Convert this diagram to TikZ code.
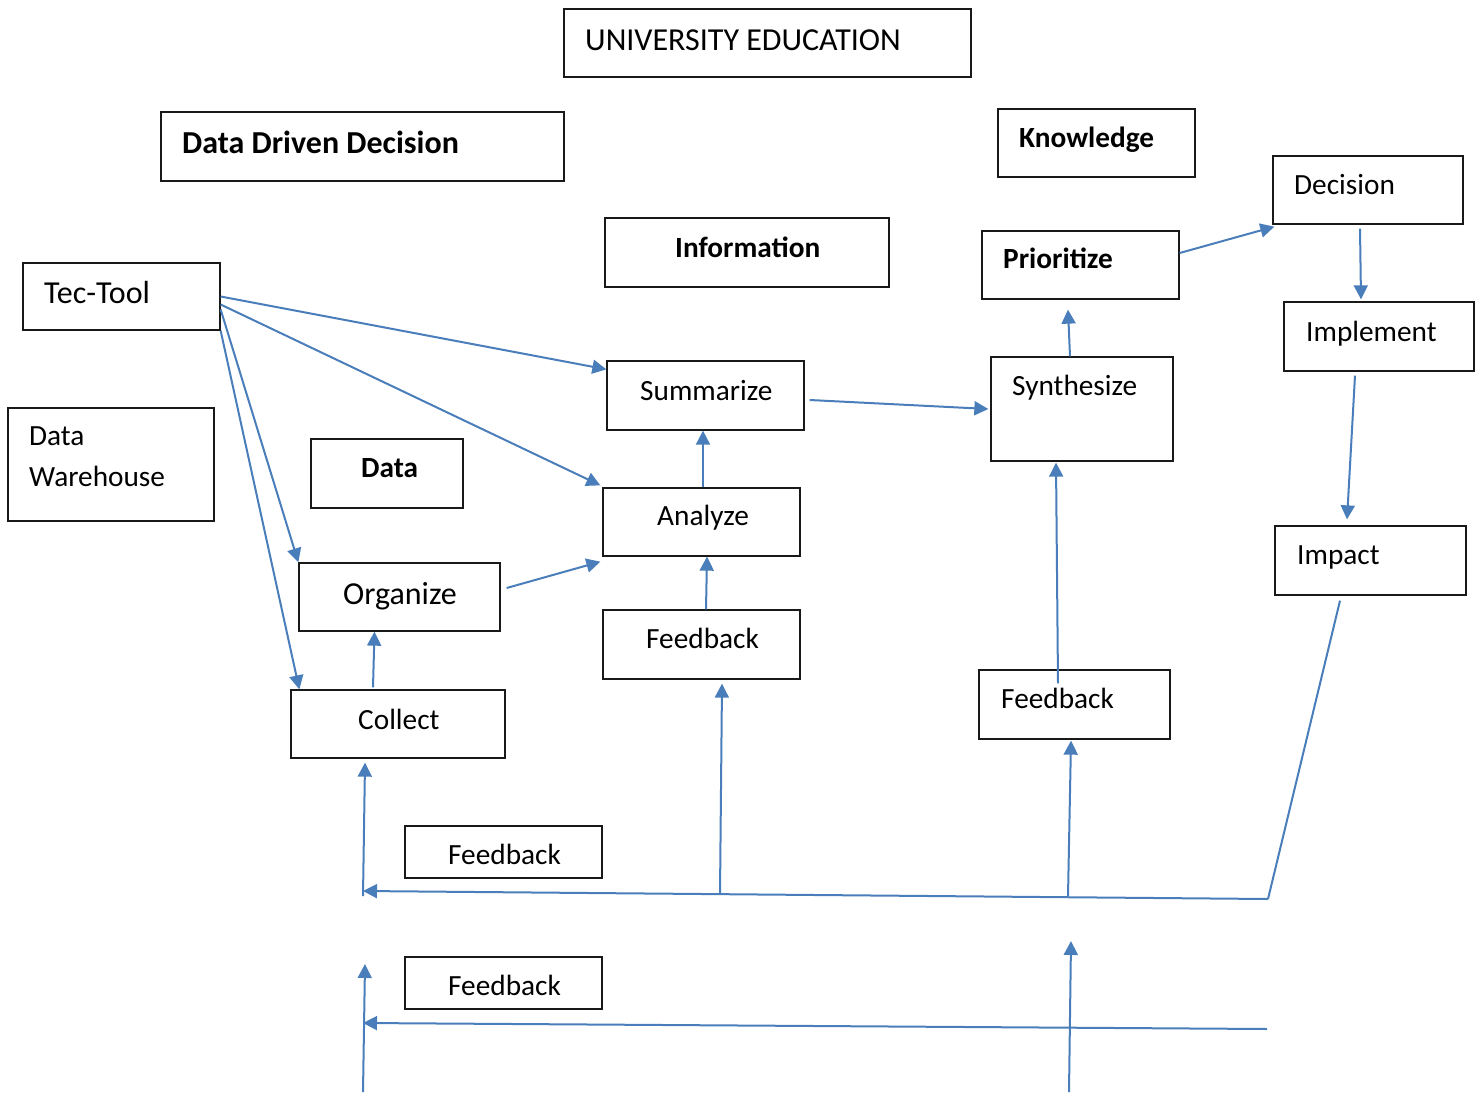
\documentclass[tikz,border=0pt]{standalone}
\usepackage{fontspec}
\setmainfont{Carlito}
\usetikzlibrary{arrows.meta}
\definecolor{flow}{HTML}{4A7EBB}
\tikzset{
  box/.style={draw=black!90,line width=1.3pt,inner sep=0pt},
  lbl/.style={anchor=base west,inner sep=0pt,font=\fontsize{29.3}{41}\selectfont},
  biglbl/.style={lbl,font=\fontsize{32}{40}\selectfont},
  boldlbl/.style={lbl,font=\fontsize{29.3}{41}\selectfont\bfseries},
  bigboldlbl/.style={lbl,font=\fontsize{32}{40}\selectfont\bfseries},
  arr/.style={draw=flow,line width=2pt,-{Triangle[length=14pt,width=14pt]}},
  ln/.style={draw=flow,line width=2pt},
}

\begin{document}
\begin{tikzpicture}[x=1pt,y=-1pt]
        \useasboundingbox (0,0) rectangle (1480,1092);

        \path
        (767.5,43) node[box,minimum width=407pt,minimum height=68pt] (univ) {}
        (362.5,146.5) node[box,minimum width=403pt,minimum height=69pt] (ddd) {}
        (1096.5,143) node[box,minimum width=197pt,minimum height=68pt] (knowledge) {}
        (1368,190) node[box,minimum width=190pt,minimum height=68pt] (decision) {}
        (747,252.5) node[box,minimum width=284pt,minimum height=69pt] (information) {}
        (1080.5,265) node[box,minimum width=197pt,minimum height=68pt] (prioritize) {}
        (121.5,296.5) node[box,minimum width=197pt,minimum height=67pt] (tectool) {}
        (1379,336.5) node[box,minimum width=190pt,minimum height=69pt] (implement) {}
        (705.5,395.5) node[box,minimum width=197pt,minimum height=69pt] (summarize) {}
        (1082,409) node[box,minimum width=182pt,minimum height=104pt] (synthesize) {}
        (111,464.5) node[box,minimum width=206pt,minimum height=113pt] (warehouse) {}
        (387,473.5) node[box,minimum width=152pt,minimum height=69pt] (data) {}
        (701.5,522) node[box,minimum width=197pt,minimum height=68pt] (analyze) {}
        (1370.5,560.5) node[box,minimum width=191pt,minimum height=69pt] (impact) {}
        (399.5,597) node[box,minimum width=201pt,minimum height=68pt] (organize) {}
        (701.5,644.5) node[box,minimum width=197pt,minimum height=69pt] (fbanalyze) {}
        (1074.5,704.5) node[box,minimum width=191pt,minimum height=69pt] (fbsynth) {}
        (398,724) node[box,minimum width=214pt,minimum height=68pt] (collect) {}
        (503.5,852) node[box,minimum width=197pt,minimum height=52pt] (fbone) {}
        (503.5,983) node[box,minimum width=197pt,minimum height=52pt] (fbtwo) {}
        ;

        \path
        (585,50) node[biglbl] (univ-t) {UNIVERSITY EDUCATION}
        (182,153) node[bigboldlbl] (ddd-t) {Data Driven Decision}
        (1019,147) node[boldlbl] (knowledge-t) {Knowledge}
        (1294,194) node[lbl] (decision-t) {Decision}
        (675,257) node[boldlbl] (information-t) {Information}
        (1003,268) node[boldlbl] (prioritize-t) {Prioritize}
        (44,303) node[biglbl] (tectool-t) {Tec-Tool}
        (1306,341) node[lbl] (implement-t) {Implement}
        (640,400) node[lbl] (summarize-t) {Summarize}
        (1012,395) node[lbl] (synthesize-t) {Synthesize}
        (29,446) node[lbl,align=left,anchor=north west,yshift=20pt] (warehouse-t) {Data\\Warehouse}
        (361,477) node[boldlbl] (data-t) {Data}
        (657,525) node[lbl] (analyze-t) {Analyze}
        (1297,564) node[lbl] (impact-t) {Impact}
        (343,604) node[biglbl] (organize-t) {Organize}
        (646,648) node[lbl] (fbanalyze-t) {Feedback}
        (1001,708) node[lbl] (fbsynth-t) {Feedback}
        (358,729) node[lbl] (collect-t) {Collect}
        (448,864) node[lbl] (fbone-t) {Feedback}
        (448,995) node[lbl] (fbtwo-t) {Feedback}
        ;

        \coordinate (turn) at (1268,899);
        \coordinate (back) at (363,891);
        \coordinate (upcollect) at (363,896);
        \coordinate (upanalyze) at (720,894);
        \coordinate (upsynth) at (1068,896);
        \coordinate (lowright) at (1267,1029);
        \coordinate (lowback) at (363,1023);
        \coordinate (lowleft) at (363,1092);
        \coordinate (lowleftend) at (365,964);
        \coordinate (lowmid) at (1069,1092);
        \coordinate (lowmidend) at (1071,941);

        \draw[arr] (tectool.east) -- ([yshift=-9pt]summarize.north west);
        \draw[arr] ([yshift=-8pt]tectool.east) -- ([xshift=-2pt,yshift=2pt]analyze.north west);
        \draw[arr] ([yshift=-13pt]tectool.east) -- (organize.north west);
        \draw[arr] (tectool.south east) -- ([xshift=9pt]collect.north west);
        \draw[arr] ([xshift=6pt,yshift=9pt]organize.east) -- ([xshift=-2pt,yshift=-5pt]analyze.south west);
        \draw[arr] ([xshift=-25pt,yshift=2pt]collect.north) -- ([xshift=-25pt]organize.south);
        \draw[arr] ([xshift=4.5pt]fbanalyze.north) -- ([xshift=5.5pt]analyze.south);
        \draw[arr] ([xshift=1.5pt]analyze.north) -- ([xshift=-2.5pt]summarize.south);
        \draw[arr] ([xshift=5pt,yshift=-4.5pt]summarize.east) -- ([xshift=-2pt]synthesize.west);
        \draw[arr] ([xshift=-12pt]synthesize.north) -- ([xshift=-12.5pt,yshift=-10pt]prioritize.south);
        \draw[arr] ([yshift=12pt]prioritize.east) -- ([xshift=2pt,yshift=-2pt]decision.south west);
        \draw[arr] ([xshift=-8pt,yshift=-4pt]decision.south) -- ([xshift=-18pt,yshift=2pt]implement.north);
        \draw[arr] ([xshift=-24pt,yshift=-4pt]implement.south) -- ([xshift=-23.5pt,yshift=6pt]impact.north);
        \draw[ln] ([xshift=-30.5pt,yshift=-5pt]impact.south) -- (turn);
        \draw[arr] (turn) -- (back);
        \draw[arr] (upcollect) -- ([xshift=-33pt,yshift=-4pt]collect.south);
        \draw[arr] (upanalyze) -- ([xshift=20.5pt,yshift=-4pt]fbanalyze.south);
        \draw[arr] (upsynth) -- ([xshift=-3.5pt,yshift=-1pt]fbsynth.south);
        \draw[arr] ([xshift=-16.5pt,yshift=-14pt]fbsynth.north) -- ([xshift=-26pt,yshift=-1pt]synthesize.south);

        \draw[arr] (lowright) -- (lowback);
        \draw[arr] (lowleft) -- (lowleftend);
        \draw[arr] (lowmid) -- (lowmidend);
\end{tikzpicture}
\end{document}
